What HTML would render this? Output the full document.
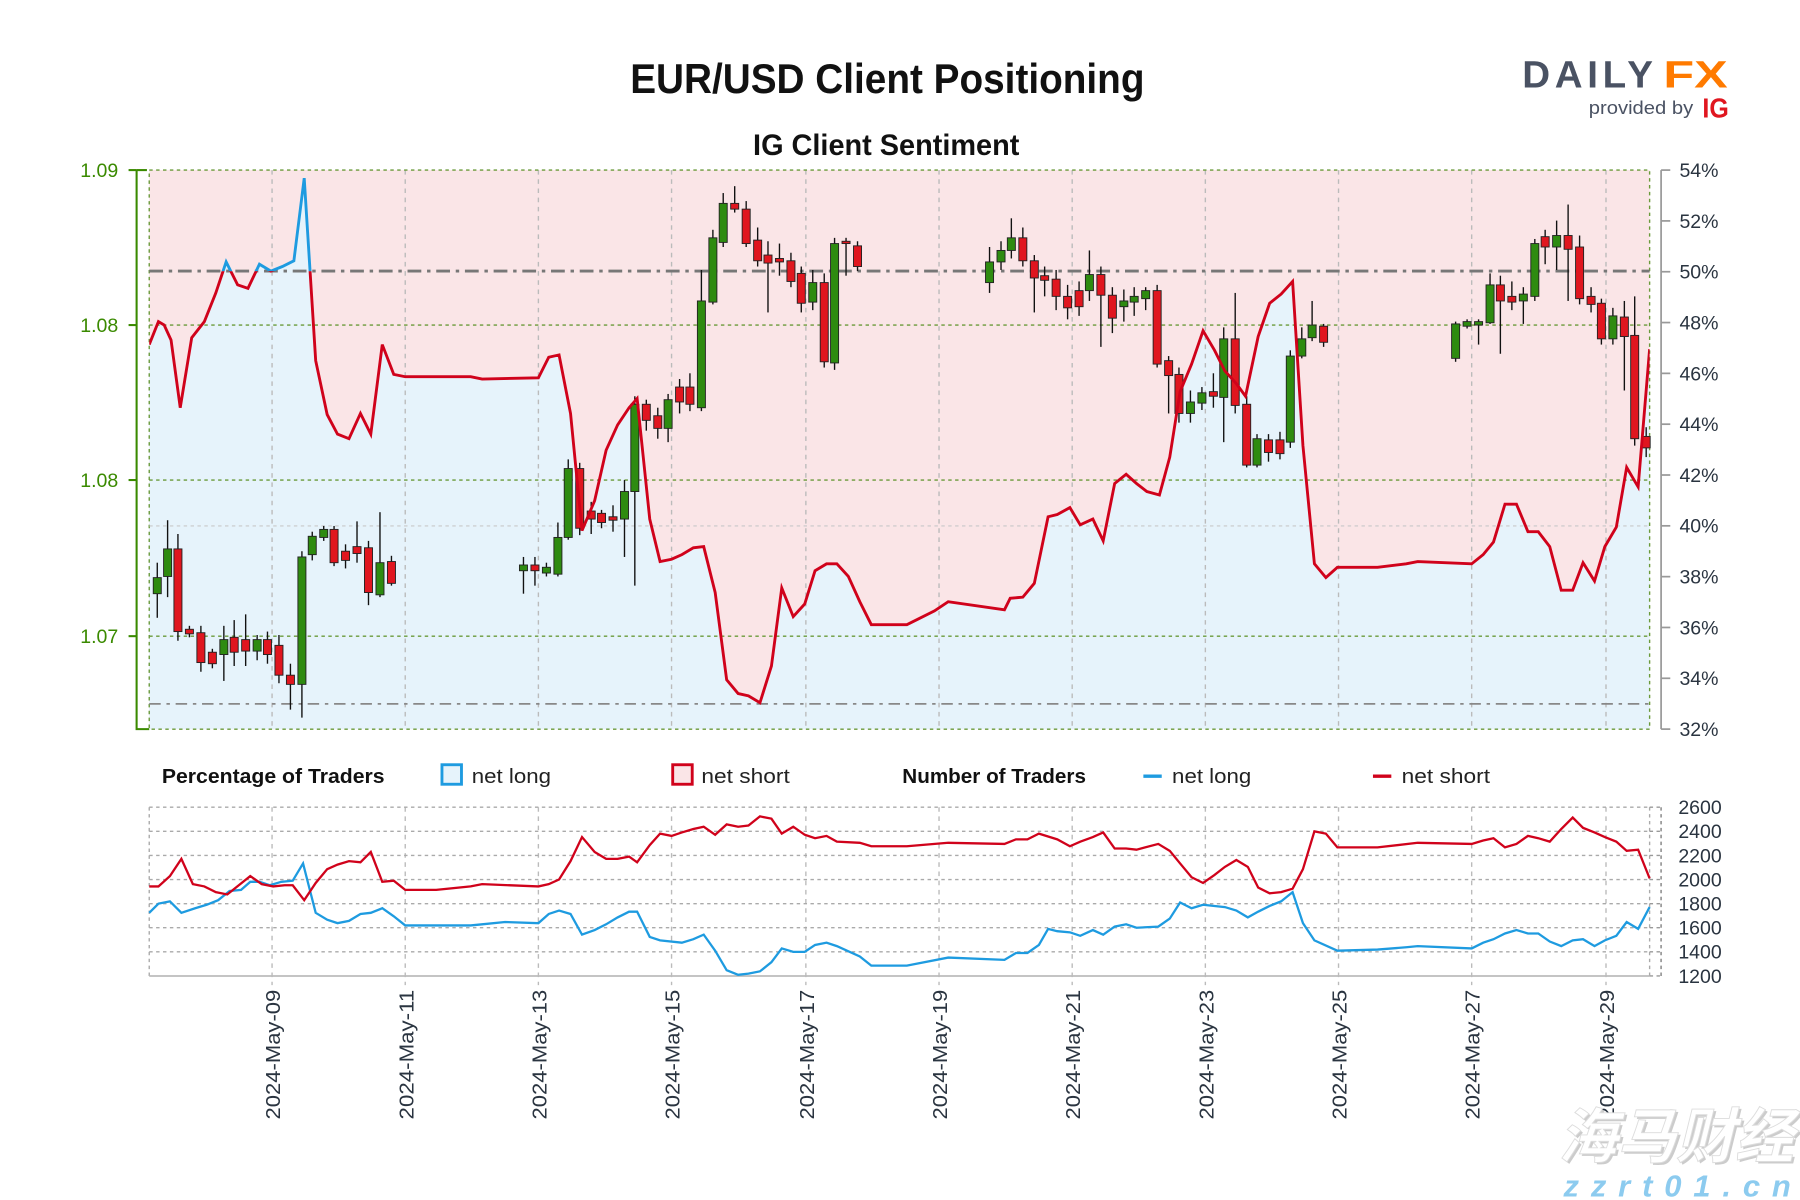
<!DOCTYPE html>
<html><head><meta charset="utf-8"><style>
html,body{margin:0;padding:0;background:#fff;}
svg{display:block;}
text{font-family:"Liberation Sans","Noto Sans CJK SC",sans-serif;}
</style></head><body>
<svg id="s" width="1800" height="1200" viewBox="0 0 1568 1045" xmlns="http://www.w3.org/2000/svg">
<defs>
<clipPath id="above"><rect x="130" y="148" width="1307" height="88"/></clipPath>
<clipPath id="below"><rect x="130" y="236" width="1307" height="399"/></clipPath>
</defs>
<text x="773" y="81" text-anchor="middle" font-size="36" font-weight="bold" fill="#111" textLength="448" lengthAdjust="spacingAndGlyphs">EUR/USD Client Positioning</text>
<text x="772" y="135" text-anchor="middle" font-size="26" font-weight="bold" fill="#111" textLength="232" lengthAdjust="spacingAndGlyphs">IG Client Sentiment</text>
<text x="1326" y="76" font-size="33" font-weight="bold" fill="#4a5263" textLength="118" lengthAdjust="spacingAndGlyphs" letter-spacing="4">DAILY</text>
<text x="1449" y="76" font-size="33" font-weight="bold" fill="#ff7a00" textLength="56" lengthAdjust="spacingAndGlyphs">FX</text>
<text x="1384" y="99" font-size="16" fill="#4a5263" textLength="91" lengthAdjust="spacingAndGlyphs">provided by</text>
<text x="1483" y="102" font-size="24" font-weight="bold" fill="#e0161f" textLength="23" lengthAdjust="spacingAndGlyphs">IG</text>

<rect x="130" y="148" width="1307" height="487" fill="#fae5e7"/>
<polygon id="bluefill" fill="#e6f3fb"/>
<g id="vgrid" stroke="#bbb" stroke-width="1.2" stroke-dasharray="4,4"></g>
<g stroke="#6a9a3a" stroke-width="1.2" stroke-dasharray="3,3" fill="none">
<line x1="130" y1="283" x2="1437" y2="283"/><line x1="130" y1="418" x2="1437" y2="418"/><line x1="130" y1="554" x2="1437" y2="554"/>
<rect x="130" y="148" width="1307" height="487"/>
</g>
<line x1="130" y1="458" x2="1437" y2="458" stroke="#c8c8c8" stroke-width="1" stroke-dasharray="3,3"/>
<line x1="130" y1="236" x2="1437" y2="236" stroke="#777" stroke-width="2.5" stroke-dasharray="12,5,3,5"/>
<line x1="130" y1="613" x2="1437" y2="613" stroke="#888" stroke-width="1.5" stroke-dasharray="10,5,3,5"/>
<g id="candles"></g>
<polyline id="sl1" fill="none" stroke="#d0021b" stroke-width="2.5" clip-path="url(#below)"/>
<polyline id="sl2" fill="none" stroke="#1e9be0" stroke-width="2.5" clip-path="url(#above)"/>

<g stroke="#3a8a00" stroke-width="1.8" fill="none">
<polyline points="119,148 119,635 130,635"/>
<line x1="119" y1="148" x2="128" y2="148"/>
<line x1="112" y1="148" x2="119" y2="148"/><line x1="112" y1="283" x2="119" y2="283"/><line x1="112" y1="418" x2="119" y2="418"/><line x1="112" y1="554" x2="119" y2="554"/>
</g>
<g font-size="17" fill="#3a8a00" text-anchor="end">
<text x="103" y="154">1.09</text><text x="103" y="289">1.08</text><text x="103" y="424">1.08</text><text x="103" y="560">1.07</text>
</g>
<g stroke="#999" stroke-width="1.5"><line x1="1447" y1="148" x2="1447" y2="635"/></g>
<g id="rticks" stroke="#999" stroke-width="1.5"></g>
<g id="rlabels" font-size="17" fill="#2a3440"></g>

<text x="141" y="682" font-size="18" font-weight="bold" fill="#111" textLength="194" lengthAdjust="spacingAndGlyphs">Percentage of Traders</text>
<rect x="385" y="666" width="17" height="17" fill="#e6f3fb" stroke="#1e9be0" stroke-width="2.5"/>
<text x="411" y="682" font-size="18" fill="#222" textLength="69" lengthAdjust="spacingAndGlyphs">net long</text>
<rect x="586" y="666" width="17" height="17" fill="#fae5e7" stroke="#d0021b" stroke-width="2.5"/>
<text x="611" y="682" font-size="18" fill="#222" textLength="77" lengthAdjust="spacingAndGlyphs">net short</text>
<text x="786" y="682" font-size="18" font-weight="bold" fill="#111" textLength="160" lengthAdjust="spacingAndGlyphs">Number of Traders</text>
<line x1="996" y1="676" x2="1012" y2="676" stroke="#1e9be0" stroke-width="3"/>
<text x="1021" y="682" font-size="18" fill="#222" textLength="69" lengthAdjust="spacingAndGlyphs">net long</text>
<line x1="1196" y1="676" x2="1212" y2="676" stroke="#d0021b" stroke-width="3"/>
<text x="1221" y="682" font-size="18" fill="#222" textLength="77" lengthAdjust="spacingAndGlyphs">net short</text>

<g id="lgrid" stroke="#aaa" stroke-width="1.2" stroke-dasharray="3,3" fill="none"></g>
<line x1="130" y1="850" x2="1437" y2="850" stroke="#bbb" stroke-width="1.5"/>
<polyline id="nl" fill="none" stroke="#1e9be0" stroke-width="2"/>
<polyline id="ns" fill="none" stroke="#d0021b" stroke-width="2"/>
<g id="llabels" font-size="17" fill="#2a3440"></g>
<g id="xlabels" font-size="18" fill="#2a3440"></g>

<text x="1460" y="1008" text-anchor="middle" font-size="52" font-weight="bold" font-style="italic" fill="#ccc" transform="translate(2,2)" textLength="205" lengthAdjust="spacingAndGlyphs">海马财经</text>
<text x="1460" y="1008" text-anchor="middle" font-size="52" font-weight="bold" font-style="italic" fill="#fff" stroke="#ddd" stroke-width="0.8" textLength="205" lengthAdjust="spacingAndGlyphs">海马财经</text>
<text x="1461" y="1042" text-anchor="middle" font-size="27" font-weight="bold" font-style="italic" fill="#8ccbef" textLength="198" lengthAdjust="spacing">zzrt01.cn</text>
</svg>
<script>
const NS="http://www.w3.org/2000/svg";
function el(t,a,p){const e=document.createElementNS(NS,t);for(const k in a)e.setAttribute(k,a[k]);document.getElementById(p).appendChild(e);return e;}
const dates=[237,353,469,585,702,818,934,1050,1166,1282,1399];
const dl=["09","11","13","15","17","19","21","23","25","27","29"];
dates.forEach((x,i)=>{
 el("line",{x1:x,y1:148,x2:x,y2:635},"vgrid");
 el("line",{x1:x,y1:703,x2:x,y2:858},"vgrid");
 const t=el("text",{x:0,y:0,transform:`translate(${x+7},975) rotate(-90)`,textLength:113,lengthAdjust:"spacingAndGlyphs"},"xlabels");
 t.textContent="2024-May-"+dl[i];
});
el("line",{x1:130,y1:703,x2:130,y2:850},"lgrid");
el("line",{x1:1437,y1:703,x2:1437,y2:850},"lgrid");
for(let i=0;i<8;i++){const y=703+i*21;const v=2600-i*200;
 if(i<7)el("line",{x1:130,y1:y,x2:1437,y2:y},"lgrid");
 el("line",{x1:1437,y1:y,x2:1447,y2:y,stroke:"#999","stroke-width":1.2},"lgrid");
 const t=el("text",{x:1462,y:y+6},"llabels");t.textContent=v;}
el("line",{x1:1447,y1:703,x2:1447,y2:850,stroke:"#999","stroke-width":1.5},"lgrid");
for(let i=0;i<12;i++){const y=148+i*44.27;const v=54-2*i;
 el("line",{x1:1447,y1:y,x2:1455,y2:y},"rticks");
 const t=el("text",{x:1463,y:y+6},"rlabels");t.textContent=v+"%";}
const C=[
[137,503,517,490,538,1],[146,502,478,453,520,1],[155,478,550,465,558,0],[165,548,552,545,555,0],[175,551,577,545,585,0],[185,568,578,565,582,0],[195,570,557,545,593,1],[204,555,568,540,580,0],[214,557,567,535,580,0],[224,567,557,553,575,1],[233,557,570,550,578,0],[243,562,588,553,595,0],[253,588,596,578,618,0],[263,596,485,480,625,1],[272,483,467,463,488,1],[282,468,461,458,471,1],[291,461,490,458,493,0],[301,480,488,474,495,0],[311,476,482,454,490,0],[321,477,516,471,527,0],[331,518,490,446,520,1],[341,489,508,484,510,0],
[456,497,492,485,517,1],[466,492,497,485,510,0],[476,499,494,490,502,1],[486,500,468,455,502,1],[495,468,408,400,470,1],[505,408,460,403,466,0],[515,445,452,437,465,0],[524,447,455,444,460,0],[534,450,453,440,463,0],[544,452,428,418,485,1],[553,428,352,345,510,1],[563,352,366,348,375,0],[573,362,373,355,382,0],[582,373,348,343,385,1],[592,337,350,330,360,0],[601,337,352,325,358,0],[611,355,262,235,358,1],[621,263,207,200,265,1],[630,211,177,168,215,1],[640,177,182,162,185,0],[650,182,212,175,215,0],[660,209,227,198,232,0],[669,222,229,210,272,0],[679,225,228,212,240,0],[689,227,245,220,250,0],[698,238,264,232,272,0],[708,263,246,235,270,1],[718,246,315,238,320,0],[727,316,212,207,322,1],[737,210,212,207,240,0],[747,214,232,210,236,0],
[862,246,228,215,255,1],[872,228,218,210,235,1],[881,218,207,190,225,1],[891,207,227,198,232,0],[901,227,242,222,272,0],[910,240,244,232,258,0],[920,243,258,235,270,0],[930,258,268,248,278,0],[940,253,267,245,275,0],[949,253,239,218,262,1],[959,239,257,232,302,0],[969,257,277,250,290,0],[979,267,262,252,280,1],[988,263,258,250,275,1],[998,260,253,250,270,1],[1008,253,317,248,320,0],[1018,314,327,310,360,0],[1027,326,360,320,368,0],[1037,360,350,340,368,1],[1047,351,342,337,357,1],[1057,341,345,325,355,0],[1066,346,295,285,385,1],[1076,295,353,255,360,0],[1086,352,405,345,407,0],[1095,405,382,378,407,1],[1105,383,394,378,402,0],[1115,383,395,376,400,0],[1124,385,310,305,390,1],[1134,310,295,285,312,1],[1143,294,283,262,297,1],[1153,284,298,282,302,0],
[1268,312,282,280,315,1],[1278,284,280,278,286,1],[1288,283,280,278,300,1],[1298,281,248,238,282,1],[1307,248,262,240,308,0],[1317,258,263,245,270,0],[1327,262,256,250,282,1],[1337,258,212,208,262,1],[1346,206,215,200,230,0],[1356,215,205,192,235,1],[1366,205,217,178,262,0],[1376,215,260,205,265,0],[1386,258,265,250,272,0],[1395,264,295,260,300,0],[1405,295,275,268,300,1],[1415,276,293,262,340,0],[1424,292,382,258,388,0],[1434,380,390,372,398,0]];
C.forEach(c=>{const[x,o,cl,h,l,g]=c;
 el("line",{x1:x,y1:h,x2:x,y2:l,stroke:"#111","stroke-width":1.2},"candles");
 const t=Math.min(o,cl),b=Math.max(o,cl);
 el("rect",{x:x-3.5,y:t,width:7,height:Math.max(b-t,1.5),fill:g?"#2e8b10":"#e0161f",stroke:"#222","stroke-width":0.8},"candles");});
const S="130,300 138,280 143,283 149,296 157,355 167,294 178,280 188,255 197,228 207,248 216,251 226,230 236,236 246,232 256,227 265,155 275,314 285,361 294,378 304,382 314,360 323,378 333,300 343,326 353,328 410,328 420,330 469,329 478,311 487,309 497,360 507,462 518,436 528,392 538,370 548,355 555,347 566,452 575,489 585,487 594,483 604,477 613,476 623,516 633,592 643,604 652,606 662,612 672,580 681,512 691,537 701,526 710,497 720,491 729,491 739,502 749,524 759,544 790,544 800,539 814,532 826,524 875,531 880,521 891,520 901,508 913,450 921,448 932,442 941,457 952,452 961,471 971,421 981,413 990,421 999,428 1010,431 1019,398 1028,341 1038,317 1048,288 1058,305 1067,323 1077,334 1085,345 1096,293 1106,264 1116,256 1126,245 1135,388 1145,491 1155,503 1165,494 1200,494 1225,491 1235,489 1282,491 1292,483 1301,472 1311,439 1321,439 1331,463 1340,463 1350,476 1360,514 1370,514 1379,490 1389,506 1398,476 1408,459 1417,407 1427,424 1437,304";
document.getElementById("sl1").setAttribute("points",S);
document.getElementById("sl2").setAttribute("points",S);
document.getElementById("bluefill").setAttribute("points",S+" 1437,635 130,635");
document.getElementById("nl").setAttribute("points","130,795 138,787 148,785 158,795 170,791 180,788 190,784 200,776 210,775 218,768 226,768 235,771 245,768 255,767 264,752 275,795 285,801 294,804 304,802 314,796 323,795 333,791 343,798 353,806 410,806 420,805 440,803 469,804 478,796 487,793 497,796 507,814 518,810 528,805 538,799 548,794 555,794 566,816 575,819 594,821 604,818 613,814 623,828 633,845 643,849 652,848 662,846 672,838 681,826 691,829 701,829 710,823 720,821 729,824 749,833 759,841 790,841 800,839 826,834 875,836 885,830 895,830 905,823 913,809 921,811 932,812 941,815 952,810 961,814 971,807 981,805 990,808 1009,807 1019,800 1028,786 1038,791 1048,788 1067,790 1077,793 1087,799 1096,794 1106,789 1116,785 1126,777 1135,804 1145,819 1165,828 1200,827 1225,825 1235,824 1282,826 1292,821 1301,818 1311,813 1321,810 1331,813 1340,813 1350,820 1360,824 1370,819 1379,818 1389,824 1398,819 1408,815 1417,803 1427,809 1437,790");
document.getElementById("ns").setAttribute("points","130,772 138,772 148,763 158,748 168,770 178,772 188,777 198,779 208,771 218,763 228,770 238,772 248,771 255,771 265,784 275,769 285,757 294,753 304,750 314,751 323,742 333,768 343,767 353,775 380,775 410,772 420,770 469,772 478,770 487,766 497,750 507,729 518,742 528,748 538,748 548,746 555,751 566,736 575,726 585,728 594,725 604,722 613,720 623,727 633,718 643,720 652,719 662,711 672,713 681,726 691,720 701,727 710,730 720,728 729,733 749,734 759,737 790,737 826,734 875,735 885,731 895,731 905,726 921,731 932,737 941,733 952,729 961,725 971,739 981,739 990,740 1009,735 1019,741 1028,752 1038,764 1048,769 1058,762 1067,755 1077,749 1087,755 1096,773 1106,778 1116,777 1126,774 1135,757 1145,724 1155,726 1165,738 1200,738 1235,734 1282,735 1292,732 1301,730 1311,738 1321,735 1331,728 1340,730 1350,733 1360,722 1370,712 1379,721 1389,725 1398,729 1408,733 1417,741 1427,740 1437,765");
</script>
</body></html>
